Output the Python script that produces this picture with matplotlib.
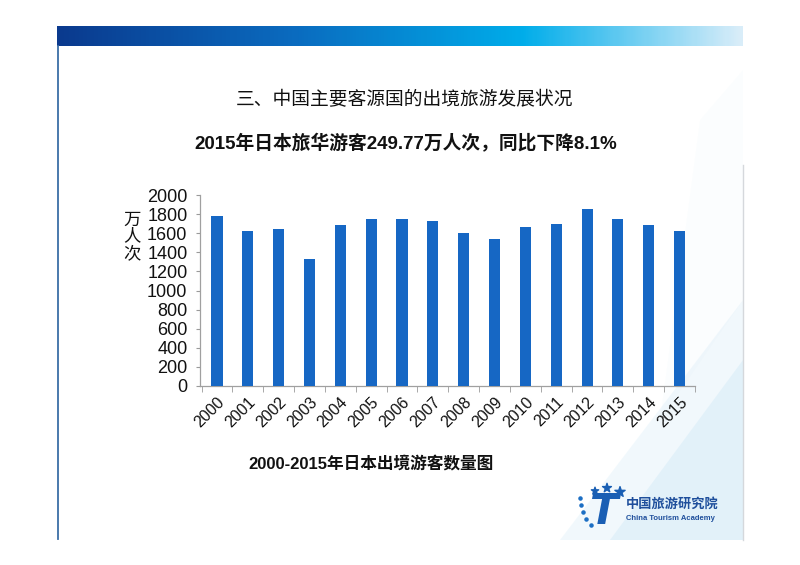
import numpy as np
import matplotlib
matplotlib.use("Agg")
import matplotlib.pyplot as plt
from matplotlib.colors import LinearSegmentedColormap
from matplotlib.patches import Polygon

plt.rcParams['font.family'] = ['Liberation Sans', 'Noto Sans CJK SC', 'DejaVu Sans']

years = [str(y) for y in range(2000, 2016)]
visitors = [1783, 1626, 1647, 1326, 1686, 1746, 1752, 1731,
            1599, 1543, 1662, 1700, 1851, 1746, 1686, 1623]
yticks = list(range(0, 2001, 200))

title1 = "三、中国主要客源国的出境旅游发展状况"
title2 = "2015年日本旅华游客249.77万人次，同比下降8.1%"
caption = "2000-2015年日本出境游客数量图"
ylabel = "万\n人\n次"

W, H = 800, 565
fig = plt.figure(figsize=(W / 100, H / 100), dpi=100)

# background layer in pixel coords
bg = fig.add_axes([0, 0, 1, 1])
bg.set_xlim(0, W)
bg.set_ylim(H, 0)
bg.axis('off')

# faint swoosh in the lower right
for pts, a in [([(560, 540), (743, 300), (743, 540)], 0.10),
               ([(610, 540), (743, 360), (743, 540)], 0.12),
               ([(700, 120), (743, 70), (743, 300), (660, 420)], 0.025)]:
    bg.add_patch(Polygon(pts, closed=True, color='#7cc3ea', alpha=a, lw=0))

# header gradient bar
cmap = LinearSegmentedColormap.from_list(
    'hdr', [(0, '#0b3a8e'), (0.35, '#0a6cc0'), (0.68, '#00adea'), (1, '#d9edf9')])
grad = np.linspace(0, 1, 300).reshape(1, -1)
bg.imshow(grad, cmap=cmap, aspect='auto', extent=(57, 743, 46, 26), zorder=2)

# frame lines
bg.plot([58, 58], [46, 539], color='#3c6ea6', lw=1.3)
bg.plot([743, 743], [165, 540], color='#d5d8dc', lw=1)

# titles
bg.text(405, 100, title1, ha='center', va='center', fontsize=13.5,
        fontweight='medium', color='#111111')
bg.text(406, 144, title2, ha='center', va='center', fontsize=13.5,
        fontweight='bold', color='#111111')
bg.text(371, 464, caption, ha='center', va='center', fontsize=12,
        fontweight='bold', color='#111111')
bg.text(132, 237, ylabel, ha='center', va='center', fontsize=12.5,
        linespacing=1.05, color='#111111')

# logo
bg.scatter([580, 581, 583, 586, 591], [498, 505, 512, 519, 525], marker='o',
           s=5, color='#1c6fc4', zorder=3)
bg.scatter([595, 607, 620], [491, 488, 492], marker='*', s=[30, 45, 60],
           color='#1a5fb4', zorder=3)
bg.text(604, 512, "T", ha='center', va='center', fontsize=30, fontweight='bold',
        style='italic', color='#1a5fb4', family='DejaVu Sans')
bg.text(626, 504, "中国旅游研究院", ha='left', va='center', fontsize=9.5,
        fontweight='bold', color='#1f4f9c')
bg.text(626, 518, "China Tourism Academy", ha='left', va='center', fontsize=5.5,
        fontweight='bold', color='#1f4f9c')

# bar chart
ax = fig.add_axes([200 / W, 1 - 386 / H, 495 / W, 191 / H])
x = np.arange(len(years))
ax.bar(x, visitors, width=0.36, color='#1667c4', zorder=3)
ax.set_xlim(-0.55, len(years) - 0.5)
ax.set_ylim(0, 2000)
ax.set_yticks(yticks)
ax.set_yticklabels([str(v) for v in yticks], fontsize=13, color='#111111')
ax.set_xticks(x)
ax.set_xticklabels(years, rotation=45, ha='right', rotation_mode='anchor',
                   fontsize=11.5, color='#111111')
ax.set_xticks(np.arange(-0.5, len(years)), minor=True)
ax.tick_params(axis='x', which='major', length=0, pad=6)
ax.tick_params(axis='x', which='minor', length=4, color='#9a9a9a')
ax.tick_params(axis='y', length=3, color='#9a9a9a', pad=6)
for s in ['top', 'right']:
    ax.spines[s].set_visible(False)
for s in ['left', 'bottom']:
    ax.spines[s].set_color('#a0a0a0')
    ax.spines[s].set_linewidth(0.9)
ax.patch.set_alpha(0)

fig.savefig("out.png", dpi=100)
